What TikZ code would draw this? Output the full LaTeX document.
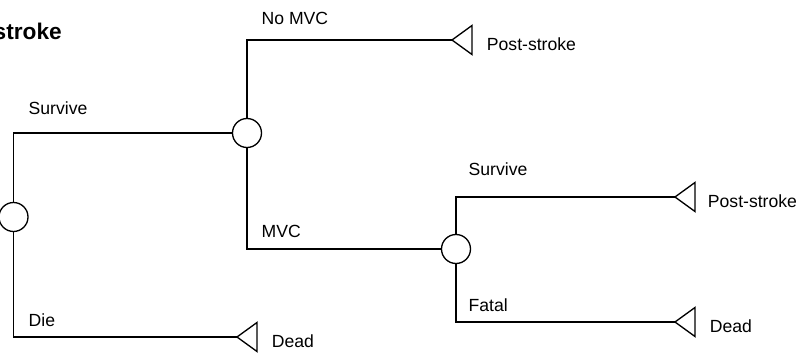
\documentclass[tikz,border=0pt]{standalone}
\usepackage{fontspec}
\setmainfont{Liberation Sans}
\usetikzlibrary{positioning,shapes.geometric}

\tikzset{
  chance/.style={draw, circle, line width=1pt, minimum size=21.75pt, inner sep=0pt, fill=white},
  terminal/.style={draw, isosceles triangle, isosceles triangle stretches,
    shape border rotate=180, minimum width=21.75pt, minimum height=15pt,
    inner sep=0pt, outer sep=0pt, line width=1pt},
  branch/.style={line width=1pt},
  lbl/.style={anchor=base west, inner sep=0pt, font=\fontsize{13.2}{15}\selectfont},
  outcome/.style={inner sep=0pt, yshift=-3pt, font=\fontsize{13.2}{15}\selectfont},
}

\begin{document}
\begin{tikzpicture}[x=0.75pt, y=-0.75pt]
  \useasboundingbox (0,0) rectangle (801,356);

  % Title
  \node[anchor=base east, inner sep=0pt, font=\fontsize{17}{19}\selectfont\bfseries] (title) at (62,40) {stroke};

  % Chance nodes
  \node[chance] (root) at (13.5,217) {};
  \node[chance] (mvc) at (247,133) {};
  \node[chance] (crash) at (456,249) {};

  % Terminal nodes
  \node[terminal, anchor=apex] (t1) at (452,40) {};
  \node[terminal, anchor=apex] (t2) at (237,337) {};
  \node[terminal, anchor=apex] (t3) at (675,197) {};
  \node[terminal, anchor=apex] (t4) at (675,322) {};

  % Branches
  \draw[branch] (root.north) |- node[lbl, xshift=10.9pt, yshift=14pt] (survive1) {Survive} (mvc.west);
  \draw[branch] (root.south) |- node[lbl, xshift=10.9pt, yshift=7.5pt] (die) {Die} (t2.apex);
  \draw[branch] (mvc.north) |- node[lbl, xshift=10.5pt, yshift=11.8pt] (nomvc) {No MVC} (t1.apex);
  \draw[branch] (mvc.south) |- node[lbl, xshift=10.5pt, yshift=8.25pt] (mvclbl) {MVC} (crash.west);
  \draw[branch] (crash.north) |- node[lbl, xshift=9pt, yshift=15.75pt] (survive2) {Survive} (t3.apex);
  \draw[branch] (crash.south) |- node[lbl, xshift=9pt, yshift=7.5pt] (fatal) {Fatal} (t4.apex);

  % Outcomes
  \node[outcome, right=11pt of t1] (o1) {Post-stroke};
  \node[outcome, right=11pt of t2] (o2) {Dead};
  \node[outcome, right=9.5pt of t3] (o3) {Post-stroke};
  \node[outcome, right=11pt of t4] (o4) {Dead};
\end{tikzpicture}
\end{document}
